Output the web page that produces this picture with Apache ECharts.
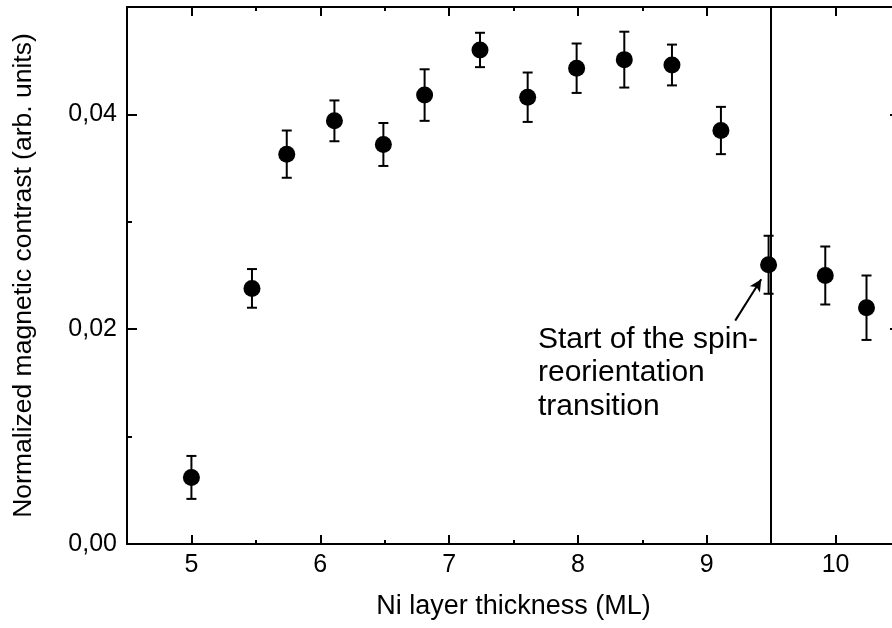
<!DOCTYPE html>
<html>
<head>
<meta charset="utf-8">
<script src="https://cdn.jsdelivr.net/npm/echarts@6/dist/echarts.min.js"></script>
<style>
html,body{margin:0;padding:0;background:#fff;}
#chart{width:892px;height:628px;}
</style>
</head>
<body>
<div id="chart"></div>
<script>
// Data
var thickness = [5.00, 5.47, 5.74, 6.11, 6.49, 6.81, 7.24, 7.61, 7.99, 8.36, 8.73, 9.11, 9.48, 9.92, 10.24];
var contrast  = [0.0062, 0.0238, 0.0363, 0.0394, 0.0372, 0.0418, 0.0460, 0.0416, 0.0443, 0.0451, 0.0446, 0.0385, 0.0260, 0.0250, 0.0220];
var errorBars = [0.0020, 0.0018, 0.0022, 0.0019, 0.0020, 0.0024, 0.0016, 0.0023, 0.0023, 0.0026, 0.0019, 0.0022, 0.0027, 0.0027, 0.0030];
var xMajorTicks = [5, 6, 7, 8, 9, 10];
var xMinorTicks = [5.5, 6.5, 7.5, 8.5, 9.5, 10.5];
var yMajorTicks = [0, 0.02, 0.04];
var yMinorTicks = [0.01, 0.03];
var transitionX = 9.5;
var annotationText = ['Start of the spin-', 'reorientation', 'transition'];
var annotationAnchor = [7.69, 0.0206];
var arrowFrom = [9.221, 0.0208];
var arrowTo = [9.423, 0.02465];

var FONT = 'Liberation Sans, Arial, sans-serif';
var scatterData = thickness.map(function (x, i) { return [x, contrast[i]]; });
var errData = thickness.map(function (x, i) { return [x, contrast[i] - errorBars[i], contrast[i] + errorBars[i]]; });

function xAxisDef(pos, ticks, len, showLine, showLabels, withName) {
  var ax = {
    type: 'value', position: pos, min: 4.5, max: 10.5, interval: 0.5,
    axisLine: { show: showLine, onZero: false, lineStyle: { color: '#000', width: 2 } },
    axisTick: { show: true, inside: true, length: len, customValues: ticks, lineStyle: { color: '#000', width: 2 } },
    axisLabel: { show: showLabels, customValues: ticks, color: '#000', fontSize: 25, fontFamily: FONT, margin: 9 },
    splitLine: { show: false }
  };
  if (withName) {
    ax.name = 'Ni layer thickness (ML)';
    ax.nameLocation = 'middle';
    ax.nameGap = 49;
    ax.nameTextStyle = { color: '#000', fontSize: 27, fontFamily: FONT };
  }
  return ax;
}
function yAxisDef(pos, ticks, len, showLine, showLabels, withName) {
  var ax = {
    type: 'value', position: pos, min: 0, max: 0.05, interval: 0.01,
    axisLine: { show: showLine, onZero: false, lineStyle: { color: '#000', width: 2 } },
    axisTick: { show: true, inside: true, length: len, customValues: ticks, lineStyle: { color: '#000', width: 2 } },
    axisLabel: { show: showLabels, customValues: ticks, color: '#000', fontSize: 25, fontFamily: FONT, margin: 10,
      formatter: function (v) { return v.toFixed(2).replace('.', ','); } },
    splitLine: { show: false }
  };
  if (withName) {
    ax.name = 'Normalized magnetic contrast (arb. units)';
    ax.nameLocation = 'middle';
    ax.nameGap = 90;
    ax.nameTextStyle = { color: '#000', fontSize: 26.5, fontFamily: FONT };
  }
  return ax;
}

var chart = echarts.init(document.getElementById('chart'), null, { renderer: 'canvas' });
chart.setOption({
  backgroundColor: '#fff',
  animation: false,
  grid: { left: 127, width: 773, top: 7, height: 537, containLabel: false, outerBoundsMode: 'none' },
  xAxis: [
    xAxisDef('bottom', xMajorTicks, 9, true, true, true),
    xAxisDef('bottom', xMinorTicks, 4, false, false, false),
    xAxisDef('top', xMajorTicks, 9, true, false, false),
    xAxisDef('top', xMinorTicks, 4, false, false, false)
  ],
  yAxis: [
    yAxisDef('left', yMajorTicks, 10, true, true, true),
    yAxisDef('left', yMinorTicks, 5, false, false, false),
    yAxisDef('right', yMajorTicks, 10, true, false, false),
    yAxisDef('right', yMinorTicks, 5, false, false, false)
  ],
  series: [
    {
      type: 'custom',
      name: 'errors',
      xAxisIndex: 0, yAxisIndex: 0,
      data: errData,
      encode: { x: 0, y: [1, 2] },
      renderItem: function (params, api) {
        var x = api.value(0);
        var lo = api.coord([x, api.value(1)]);
        var hi = api.coord([x, api.value(2)]);
        var hw = 5;
        var st = { stroke: '#000', lineWidth: 2 };
        return {
          type: 'group',
          children: [
            { type: 'line', shape: { x1: lo[0], y1: lo[1], x2: hi[0], y2: hi[1] }, style: st },
            { type: 'line', shape: { x1: lo[0] - hw, y1: lo[1], x2: lo[0] + hw, y2: lo[1] }, style: st },
            { type: 'line', shape: { x1: hi[0] - hw, y1: hi[1], x2: hi[0] + hw, y2: hi[1] }, style: st }
          ]
        };
      },
      z: 3
    },
    {
      type: 'scatter',
      name: 'contrast',
      xAxisIndex: 0, yAxisIndex: 0,
      data: scatterData,
      symbol: 'circle',
      symbolSize: 17,
      itemStyle: { color: '#000', opacity: 1 },
      z: 4,
      markLine: {
        silent: true,
        animation: false,
        label: { show: false },
        data: [
          [{ xAxis: transitionX, yAxis: 0, symbol: 'none', lineStyle: { color: '#000', width: 2, type: 'solid' } },
           { xAxis: transitionX, yAxis: 0.05, symbol: 'none' }],
          [{ coord: arrowFrom, symbol: 'none', lineStyle: { color: '#000', width: 2, type: 'solid' } },
           { coord: arrowTo, symbol: 'arrow', symbolSize: [9, 12] }]
        ]
      }
    },
    {
      type: 'custom',
      name: 'annotation',
      xAxisIndex: 0, yAxisIndex: 0,
      data: [annotationAnchor],
      renderItem: function (params, api) {
        var p = api.coord([api.value(0), api.value(1)]);
        return {
          type: 'text',
          x: p[0], y: p[1],
          style: {
            text: annotationText.join('\n'),
            fill: '#000',
            font: '30px ' + FONT,
            textAlign: 'left',
            textVerticalAlign: 'top',
            lineHeight: 33.5
          }
        };
      },
      z: 5
    }
  ]
});
</script>
</body>
</html>
